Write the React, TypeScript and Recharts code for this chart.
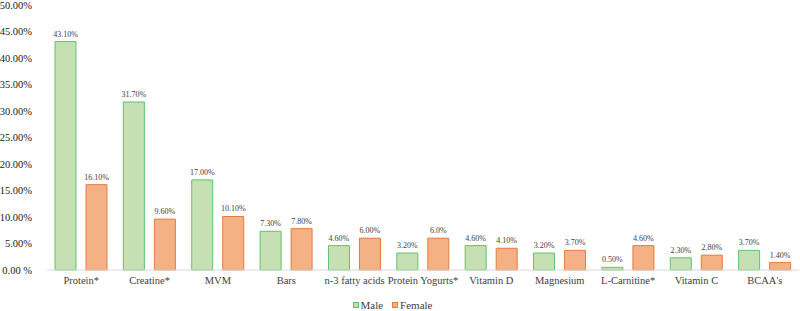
import React from "react";
import { BarChart, Bar, XAxis, YAxis, Legend, LabelList } from "recharts";

const categories = [
  "Protein*", "Creatine*", "MVM", "Bars", "n-3 fatty acids", "Protein Yogurts*",
  "Vitamin D", "Magnesium", "L-Carnitine*", "Vitamin C", "BCAA's",
];
const maleValues = [43.1, 31.7, 17.0, 7.3, 4.6, 3.2, 4.6, 3.2, 0.5, 2.3, 3.7];
const femaleValues = [16.1, 9.6, 10.1, 7.8, 6.0, 6.0, 4.1, 3.7, 4.6, 2.8, 1.4];
const maleLabels = ["43.10%", "31.70%", "17.00%", "7.30%", "4.60%", "3.20%", "4.60%", "3.20%", "0.50%", "2.30%", "3.70%"];
const femaleLabels = ["16.10%", "9.60%", "10.10%", "7.80%", "6.00%", "6.0%", "4.10%", "3.70%", "4.60%", "2.80%", "1.40%"];
const yTicks = [0, 5, 10, 15, 20, 25, 30, 35, 40, 45, 50];
const yTickLabels = ["0.00 %", "5.00%", "10.00%", "15.00%", "20.00%", "25.00%", "30.00%", "35.00%", "40.00%", "45.00%", "50.00%"];
const separatorTicks = [0, 1, 2, 3, 4, 5, 6, 7, 8, 9, 10, 11];

const data = categories.map((name, i) => ({
  name,
  male: maleValues[i],
  female: femaleValues[i],
  maleLabel: maleLabels[i],
  femaleLabel: femaleLabels[i],
}));

const FONT = "Times New Roman, Liberation Serif, DejaVu Serif, serif";
const MALE_FILL = "#c6e0b4";
const MALE_STROKE = "#5fc36b";
const FEMALE_FILL = "#f4b183";
const FEMALE_STROKE = "#e17d43";

const LegendContent = () => (
  <div
    style={{
      display: "flex",
      justifyContent: "center",
      alignItems: "center",
      fontFamily: FONT,
      fontSize: 11,
      lineHeight: "12px",
      color: "#404040",
      paddingRight: 14,
      height: 12,
    }}
  >
    {[
      { label: "Male", fill: MALE_FILL, stroke: MALE_STROKE },
      { label: "Female", fill: FEMALE_FILL, stroke: FEMALE_STROKE },
    ].map((it, i) => (
      <div key={it.label} style={{ display: "flex", alignItems: "center", marginLeft: i === 0 ? 0 : 9 }}>
        <span
          style={{
            display: "inline-block",
            width: 4,
            height: 4,
            background: it.fill,
            border: `1px solid ${it.stroke}`,
            marginRight: 2,
          }}
        />
        <span>{it.label}</span>
      </div>
    ))}
  </div>
);

export default function App() {
  return (
    <div style={{ position: "absolute", left: 0, top: 0, background: "#fff", fontFamily: FONT }}>
      <BarChart
        width={800}
        height={311}
        data={data}
        margin={{ top: 5, right: 1, left: 0, bottom: 0 }}
        barSize={21}
        barGap={10}
        style={{ fontFamily: FONT }}
      >
        <YAxis
          width={47}
          domain={[0, 50]}
          ticks={yTicks}
          interval={0}
          axisLine={false}
          tickLine={false}
          tickSize={0}
          tickMargin={15}
          tickFormatter={(v: number) => yTickLabels[yTicks.indexOf(v)]}
          tick={{ fontFamily: FONT, fontSize: 10.5, fill: "#1a1a1a" }}
        />
        <XAxis
          dataKey="name"
          interval={0}
          height={29}
          axisLine={{ stroke: "#d9d9d9" }}
          tickLine={false}
          tickSize={0}
          tickMargin={7}
          tick={{ fontFamily: FONT, fontSize: 10.5, fill: "#404040" }}
        />
        <XAxis
          xAxisId="sep"
          type="number"
          domain={[0, 11]}
          ticks={separatorTicks}
          interval={0}
          height={0}
          axisLine={false}
          tick={false}
          tickLine={{ stroke: "#d9d9d9" }}
          tickSize={4}
        />
        <Legend verticalAlign="bottom" content={<LegendContent />} wrapperStyle={{ height: 12 }} />
        <Bar dataKey="male" fill={MALE_FILL} stroke={MALE_STROKE} strokeWidth={1} isAnimationActive={false}>
          <LabelList dataKey="maleLabel" position="top" offset={5} style={{ fontFamily: FONT, fontSize: 8, fill: "#404040" }} />
        </Bar>
        <Bar dataKey="female" fill={FEMALE_FILL} stroke={FEMALE_STROKE} strokeWidth={1} isAnimationActive={false}>
          <LabelList dataKey="femaleLabel" position="top" offset={5} style={{ fontFamily: FONT, fontSize: 8, fill: "#404040" }} />
        </Bar>
      </BarChart>
    </div>
  );
}
